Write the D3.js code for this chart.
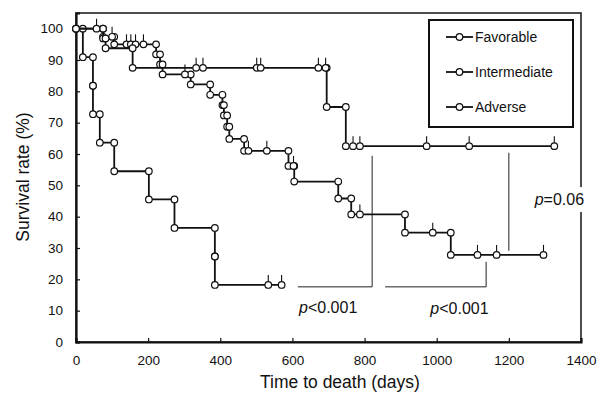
<!DOCTYPE html>
<html>
<head>
<meta charset="utf-8">
<script src="https://cdn.jsdelivr.net/npm/d3@7"></script>
<style>
    body { margin: 0; background: #fff; }
    text { font-family: "Liberation Sans", Arial, sans-serif; fill: #111; }
</style>
</head>
<body>
<div id="chart"></div>
<script>
// survival rate (%) reached after each death, times in days
const favTimes = [75, 82, 157, 695, 748];
const favRates = [96.9, 93.75, 87.5, 75.0, 62.5];
const favCensored = [57, 333, 352, 501, 512, 672, 692, 768, 787, 972, 1090, 1326];

const intTimes = [75, 106, 222, 233, 240, 318, 372, 406, 410, 419, 425, 466, 589, 605, 727, 763, 912, 1039];
const intRates = [97.4, 95.0, 91.8, 88.6, 85.4, 82.2, 78.9, 75.6, 72.3, 68.7, 64.8, 61.0, 56.2, 51.2, 45.8, 40.7, 34.9, 27.8];
const intCensored = [100, 140, 152, 165, 187, 302, 478, 529, 603, 787, 989, 1113, 1166, 1296];

const advTimes = [19, 47, 47, 66, 106, 202, 273, 385, 385];
const advRates = [90.9, 81.8, 72.7, 63.6, 54.5, 45.5, 36.4, 27.3, 18.2];
const advCensored = [533, 570];

const groups = ["Favorable", "Intermediate", "Adverse"];
const xTicks = [0, 200, 400, 600, 800, 1000, 1200, 1400];
const yTicks = [0, 10, 20, 30, 40, 50, 60, 70, 80, 90, 100];

// comparison brackets, in days and survival rate
const brackets = [
    { h: [615, 821], v: 821, low: 17.6, high: 59.4 },
    { h: [857, 1137], v: 1137, low: 17.6, high: 25.6 },
    { h: null, v: 1200, low: 29.1, high: 60.4 }
];
const pLabels = [
    { text: "<0.001", t: 699, s: 9.3 },
    { text: "<0.001", t: 1063, s: 8.9 },
    { text: "=0.06", t: 1340, s: 43.7 }
];

const width = 607, height = 394;
const svg = d3.select("#chart").append("svg")
    .attr("width", width)
    .attr("height", height);

const x = d3.scaleLinear().domain([0, 1400]).range([76, 581]);
const y = d3.scaleLinear().domain([0, 105]).range([342, 13]);

// frame
svg.append("rect")
    .attr("x", x(0)).attr("y", y(105))
    .attr("width", x(1400) - x(0)).attr("height", y(0) - y(105))
    .attr("fill", "none").attr("stroke", "#222").attr("stroke-width", 1.6);

const xAxis = svg.append("g")
    .attr("transform", "translate(0," + y(0) + ")")
    .call(d3.axisBottom(x).tickValues(xTicks).tickFormat(d3.format("d")).tickSize(-4).tickPadding(13));
const yAxis = svg.append("g")
    .attr("transform", "translate(" + x(0) + ",0)")
    .call(d3.axisLeft(y).tickValues(yTicks).tickSize(-4).tickPadding(13));
[xAxis, yAxis].forEach((g) => {
    g.select(".domain").attr("stroke", "#111").attr("stroke-width", 2.2);
    g.selectAll(".tick line").attr("stroke", "#111").attr("stroke-width", 1.2);
    g.selectAll(".tick text").attr("font-size", 13.5).attr("fill", "#111")
        .style("font-family", "'Liberation Sans', Arial, sans-serif");
});

svg.append("text")
    .attr("transform", "translate(29,177) rotate(-90)")
    .attr("text-anchor", "middle")
    .attr("font-size", 17.5)
    .text("Survival rate (%)");
svg.append("text")
    .attr("x", 340).attr("y", 388)
    .attr("text-anchor", "middle")
    .attr("font-size", 17.5)
    .text("Time to death (days)");

// brackets
const bg = svg.append("g").attr("stroke", "#222").attr("stroke-width", 1).attr("fill", "none");
brackets.forEach((b) => {
    if (b.h) {
        bg.append("line").attr("x1", x(b.h[0])).attr("x2", x(b.h[1]))
            .attr("y1", y(b.low)).attr("y2", y(b.low));
    }
    bg.append("line").attr("x1", x(b.v)).attr("x2", x(b.v))
        .attr("y1", y(b.low)).attr("y2", y(b.high));
});

pLabels.forEach((p) => {
    const t = svg.append("text")
        .attr("x", x(p.t)).attr("y", y(p.s))
        .attr("text-anchor", "middle")
        .attr("font-size", 16);
    t.append("tspan").attr("font-style", "italic").text("p");
    t.append("tspan").text(p.text);
    if (p.text === "=0.06") {
        const bb = t.node().getBBox();
        svg.insert("rect", () => t.node())
            .attr("x", bb.x - 2).attr("y", bb.y - 4)
            .attr("width", bb.width + 6).attr("height", bb.height + 8)
            .attr("fill", "#fff");
    }
});

function rateAt(times, rates, t) {
    let r = 100;
    times.forEach((d, i) => { if (d <= t) r = rates[i]; });
    return r;
}

function drawCurve(times, rates, censored) {
    const g = svg.append("g");
    const corners = [[0, 100]];
    let prev = 100;
    times.forEach((t, i) => {
        corners.push([t, prev]);
        corners.push([t, rates[i]]);
        prev = rates[i];
    });
    const end = d3.max(censored.concat(times));
    const path = d3.path();
    path.moveTo(x(0), y(100));
    corners.forEach((c) => path.lineTo(x(c[0]), y(c[1])));
    path.lineTo(x(end), y(prev));
    g.append("path").attr("d", path.toString())
        .attr("fill", "none").attr("stroke", "#111").attr("stroke-width", 1.8);

    const cens = censored.map((t) => [t, rateAt(times, rates, t)]);
    g.selectAll("line.cens").data(cens).enter().append("line")
        .attr("class", "cens")
        .attr("x1", (d) => x(d[0])).attr("x2", (d) => x(d[0]))
        .attr("y1", (d) => y(d[1]) - 3).attr("y2", (d) => y(d[1]) - 10)
        .attr("stroke", "#111").attr("stroke-width", 1.1);
    g.selectAll("circle").data(corners.concat(cens)).enter().append("circle")
        .attr("cx", (d) => x(d[0])).attr("cy", (d) => y(d[1]))
        .attr("r", 3.3)
        .attr("fill", "#fff").attr("stroke", "#111").attr("stroke-width", 1.2);
}

drawCurve(advTimes, advRates, advCensored);
drawCurve(intTimes, intRates, intCensored);
drawCurve(favTimes, favRates, favCensored);

// legend
const legend = svg.append("g").attr("transform", "translate(429,20)");
legend.append("rect")
    .attr("width", 144).attr("height", 107)
    .attr("fill", "#fff").attr("stroke", "#111").attr("stroke-width", 2);
const item = legend.selectAll("g.item").data(groups).enter().append("g")
    .attr("class", "item")
    .attr("transform", (d, i) => "translate(0," + (17 + i * 35) + ")");
item.append("line").attr("x1", 17).attr("x2", 44)
    .attr("stroke", "#111").attr("stroke-width", 1.8);
item.append("circle").attr("cx", 30.5).attr("r", 3.3)
    .attr("fill", "#fff").attr("stroke", "#111").attr("stroke-width", 1.2);
item.append("text").attr("x", 46).attr("y", 5)
    .attr("font-size", 14)
    .text((d) => d);
</script>
</body>
</html>
